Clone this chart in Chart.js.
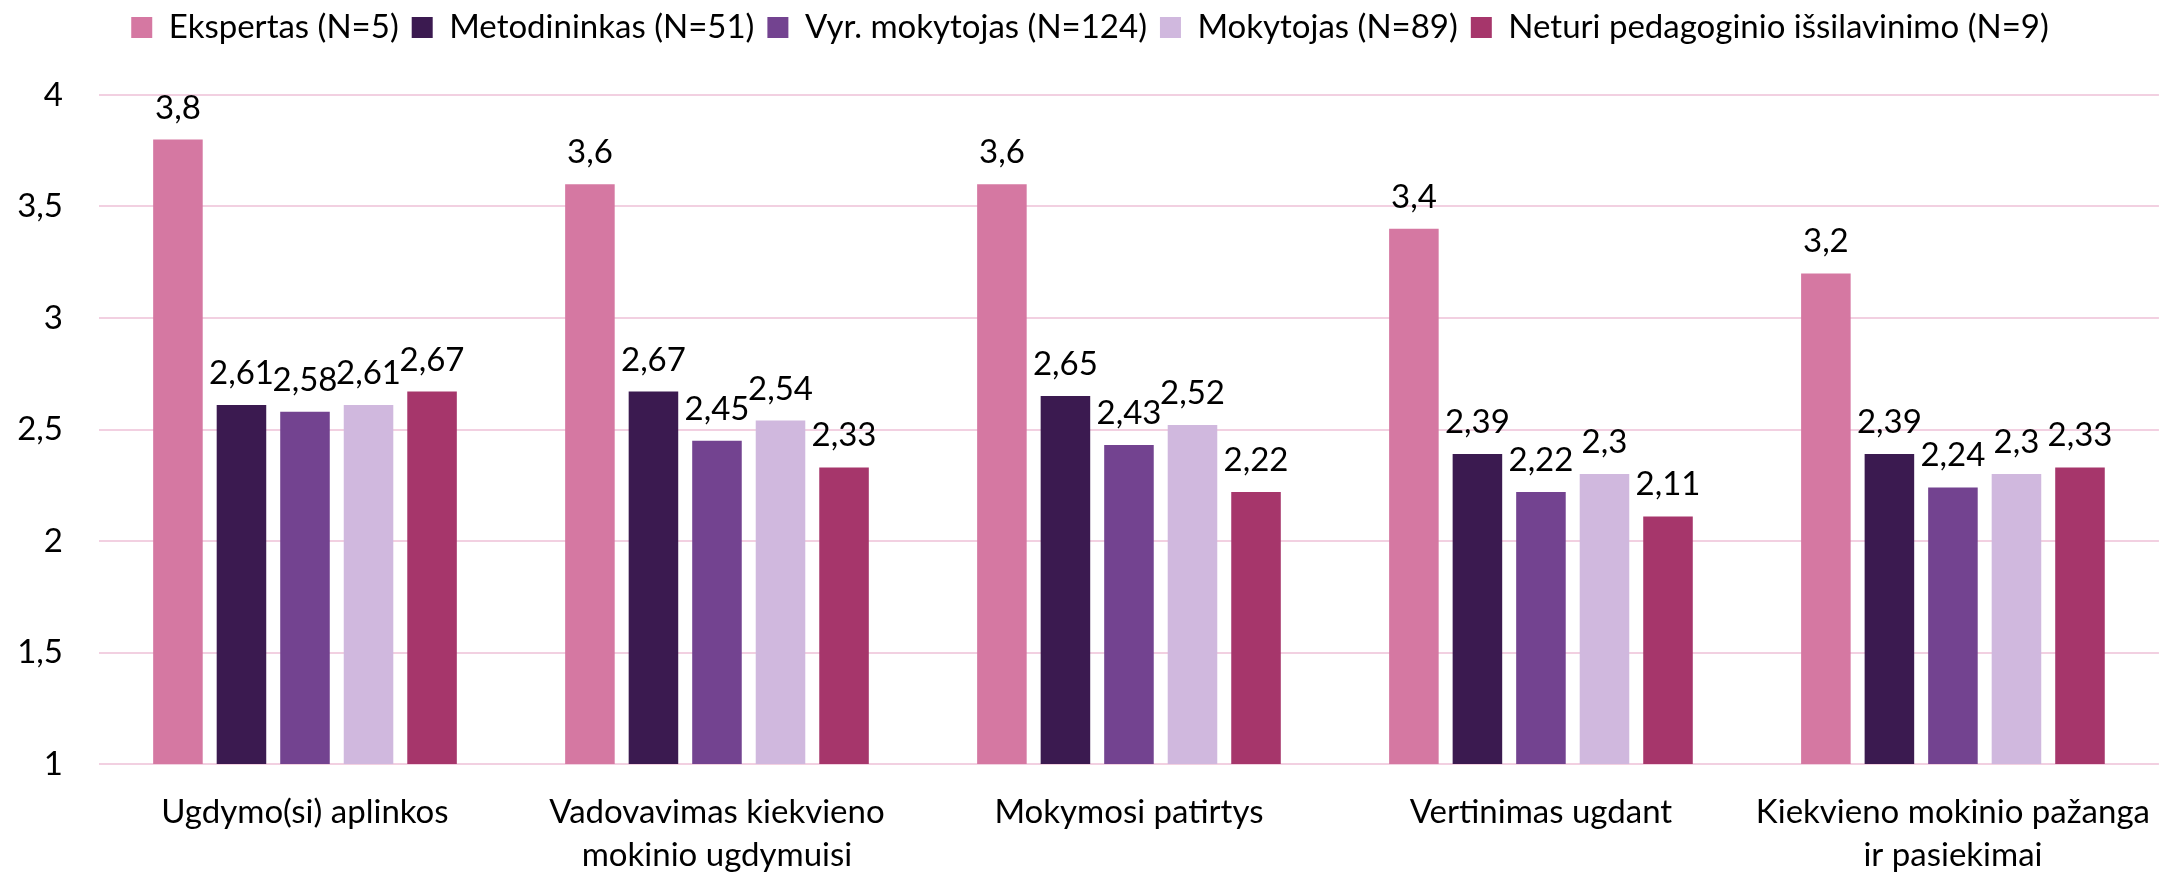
<!DOCTYPE html>
<html>
<head>
<meta charset="utf-8">
<script src="https://cdn.jsdelivr.net/npm/chart.js@4/dist/chart.umd.min.js"></script>
<style>
  html, body { margin: 0; padding: 0; background: #fff; }
  #wrap { width: 2176px; height: 875px; position: relative; }
</style>
</head>
<body>
<div id="wrap"><canvas id="barChart"></canvas></div>
<script>
'use strict';

// ------------------------------------------------------- //
// Data
// ------------------------------------------------------ //
var categories = [
    ['Ugdymo(si) aplinkos'],
    ['Vadovavimas kiekvieno', 'mokinio ugdymuisi'],
    ['Mokymosi patirtys'],
    ['Vertinimas ugdant'],
    ['Kiekvieno mokinio pažanga', 'ir pasiekimai']
];
var seriesNames = [
    'Ekspertas (N=5)',
    'Metodininkas (N=51)',
    'Vyr. mokytojas (N=124)',
    'Mokytojas (N=89)',
    'Neturi pedagoginio išsilavinimo (N=9)'
];
var ekspertas    = [3.8, 3.6, 3.6, 3.4, 3.2];
var metodininkas = [2.61, 2.67, 2.65, 2.39, 2.39];
var vyrMokytojas = [2.58, 2.45, 2.43, 2.22, 2.24];
var mokytojas    = [2.61, 2.54, 2.52, 2.3, 2.3];
var neturi       = [2.67, 2.33, 2.22, 2.11, 2.33];
var yTicks = [1, 1.5, 2, 2.5, 3, 3.5, 4];

var colors = ['#d578a2', '#3b1a50', '#734390', '#d0b8de', '#a6366b'];
var FONT = 'Lato';
var FONT_SIZE = 33;

function fmt(v) {
    return String(v).replace('.', ',');
}

// ------------------------------------------------------- //
// Value labels above the bars
// ------------------------------------------------------ //
var valueLabels = {
    id: 'valueLabels',
    afterDatasetsDraw: function (chart) {
        var ctx = chart.ctx;
        ctx.save();
        ctx.font = FONT_SIZE + 'px ' + FONT;
        ctx.fillStyle = '#000';
        ctx.textAlign = 'center';
        ctx.textBaseline = 'alphabetic';
        chart.data.datasets.forEach(function (ds, i) {
            chart.getDatasetMeta(i).data.forEach(function (bar, j) {
                ctx.fillText(fmt(ds.data[j]), bar.x, bar.y - 21);
            });
        });
        ctx.restore();
    }
};

// legend box gets a fixed height so the plot starts where it should
var legendHeight = {
    id: 'legendHeight',
    beforeLayout: function (chart) {
        var lg = chart.legend;
        if (lg && !lg._fixed) {
            var fit = lg.fit.bind(lg);
            lg.fit = function () {
                fit();
                this.height = 97;
            };
            lg._fixed = true;
        }
    }
};

var allSeries = [ekspertas, metodininkas, vyrMokytojas, mokytojas, neturi];

var barChart = new Chart(document.getElementById('barChart'), {
    type: 'bar',
    plugins: [valueLabels, legendHeight],
    data: {
        labels: categories,
        datasets: allSeries.map(function (values, i) {
            return {
                label: seriesNames[i],
                data: values,
                backgroundColor: colors[i],
                borderWidth: 0,
                categoryPercentage: 0.771,
                barPercentage: 0.78
            };
        })
    },
    options: {
        responsive: true,
        maintainAspectRatio: false,
        animation: false,
        layout: {
            padding: { top: -2, right: -4, left: 0, bottom: 0 }
        },
        plugins: {
            legend: {
                position: 'top',
                labels: {
                    boxWidth: 21,
                    boxHeight: 21,
                    padding: 13,
                    color: '#000',
                    font: { family: FONT, size: FONT_SIZE }
                }
            },
            tooltip: { enabled: false }
        },
        scales: {
            x: {
                grid: { display: false, drawTicks: false },
                border: { display: false },
                ticks: {
                    color: '#000',
                    padding: 26,
                    maxRotation: 0,
                    font: { family: FONT, size: FONT_SIZE, lineHeight: 1.33 }
                },
                afterFit: function (scale) { scale.height = 111; }
            },
            y: {
                min: 1,
                max: 4,
                afterBuildTicks: function (scale) {
                    scale.ticks = yTicks.map(function (v) { return { value: v }; });
                },
                grid: { color: '#f2d0e1', lineWidth: 2, drawTicks: false },
                border: { display: false },
                ticks: {
                    color: '#000',
                    padding: 36,
                    font: { family: FONT, size: FONT_SIZE },
                    callback: function (v) { return fmt(v); }
                },
                afterFit: function (scale) { scale.width = 99; }
            }
        }
    }
});
</script>
</body>
</html>
